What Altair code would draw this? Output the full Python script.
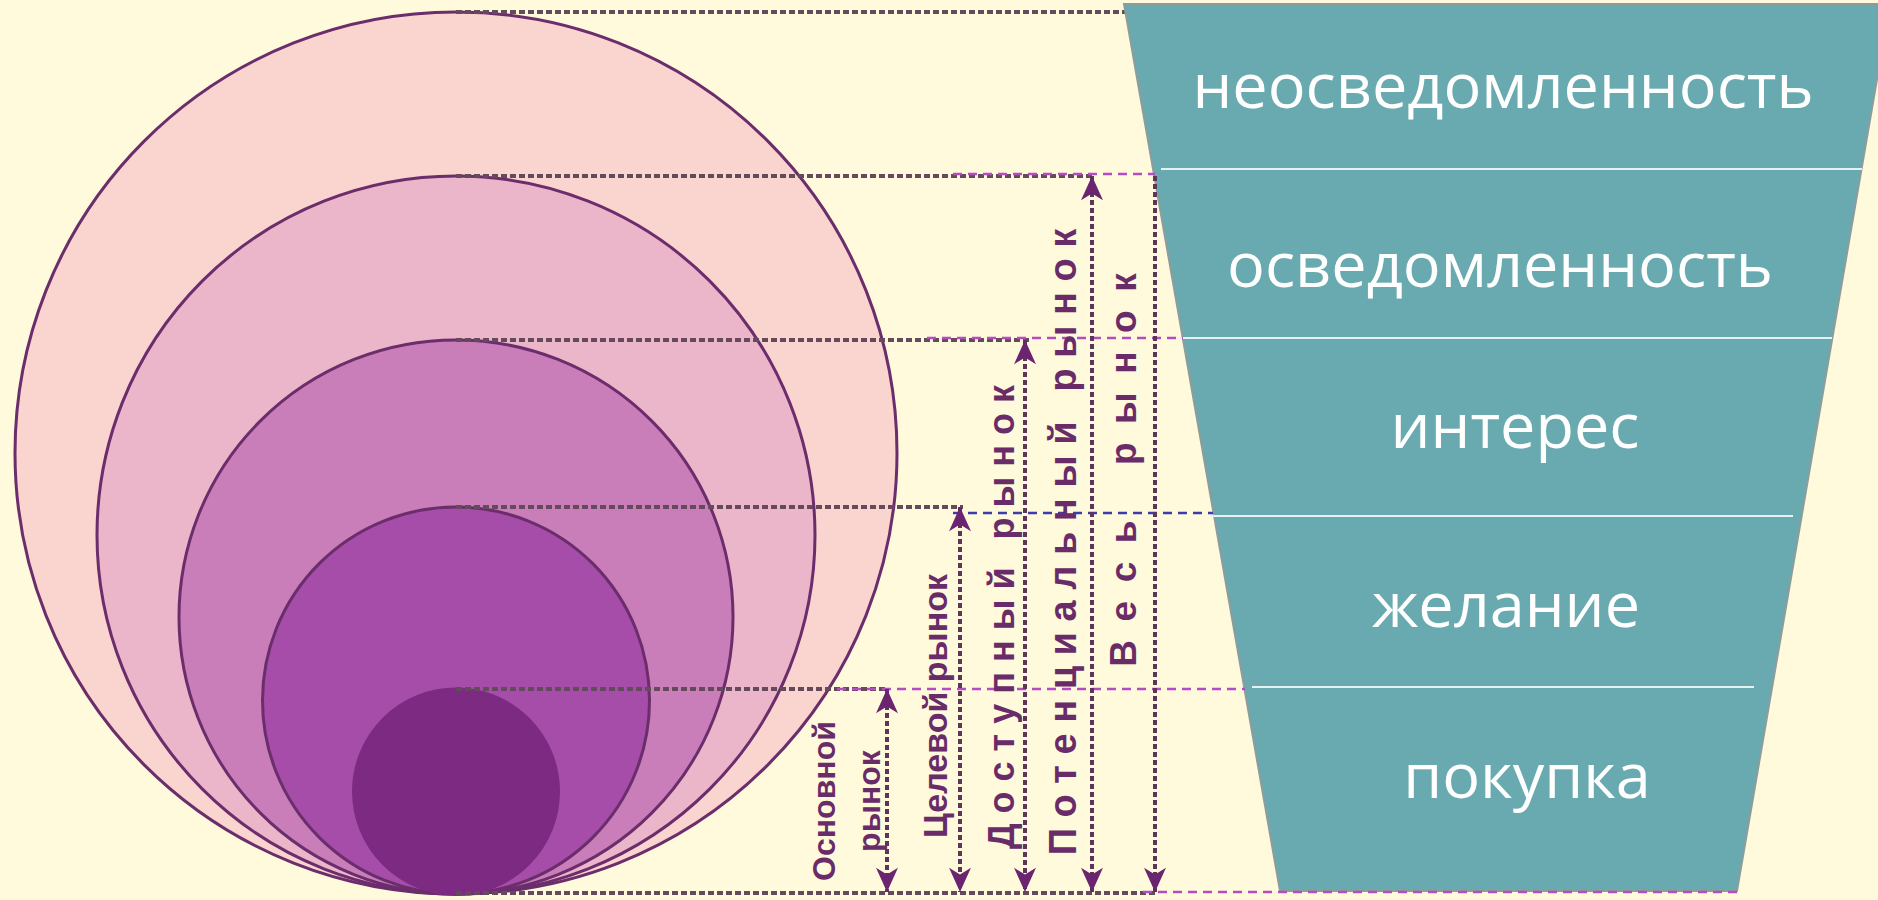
import altair as alt
import pandas as pd

W, H = 1878, 900

# ---- markets (nested circles, all touching at the bottom) ----
markets = ["Весь рынок", "Потенциальный рынок", "Доступный рынок", "Целевой рынок", "Основной рынок"]
circle_top = [12, 176, 340, 507, 689]
circle_bottom = 894
circle_cx = 456
circle_fill = ["#FAD5D0", "#EBB6C9", "#C97EBA", "#A64DAA", "#7C2A82"]
circle_stroke = ["#6B2D6B", "#6B2D6B", "#6B2D6B", "#6B2D6B", "#7C2A82"]

# dark guide lines from circle tops (and common bottom) to the arrows
guide_y = circle_top + [893]
guide_end = [1126, 1093, 1030, 963, 887, 1157]

# thin coloured guides towards the funnel
link_y = [174, 338, 513, 689, 892]
link_x0 = [953, 927, 953, 837, 1143]
link_x1 = [1155, 1183, 1213, 1245, 1737]
link_color = ["#B54CC2", "#B54CC2", "#3D3DAA", "#B54CC2", "#B54CC2"]

# vertical size arrows
arrow_x = [1155, 1092, 1025, 960, 887]
arrow_top = [176, 176, 340, 507, 689]
arrow_has_top = [False, True, True, True, True]
arrow_bottom = 892

# vertical labels (rotated)
label_text = [
    "В\u2002е\u2002с\u2002ь\u2003\u2002р\u2002ы\u2002н\u2002о\u2002к",
    "П о т е н ц и а л ь н ы й\u2002 р ы н о к",
    "Д о с т у п н ы й\u2002 р ы н о к",
    "Целевой рынок",
    "Основной",
    "рынок",
]
label_x = [1125, 1065, 1003, 937, 825, 870]
label_y = [470, 542, 617, 706, 801, 801]
label_size = [37, 38, 36, 34, 32, 32]

# ---- funnel ----
stages = ["неосведомленность", "осведомленность", "интерес", "желание", "покупка"]
funnel_y = [4, 891]
funnel_left = [1124, 1280]
funnel_right = [1890, 1737]
divider_y = [169, 338, 516, 687]
divider_x0 = [1161, 1180, 1210, 1252]
divider_x1 = [1862, 1832, 1793, 1754]
stage_x = [1503, 1500, 1515, 1506, 1527]
stage_baseline = [108, 287, 448, 627, 798]

xs = alt.Scale(domain=[0, W], nice=False, zero=False)
ys = alt.Scale(domain=[0, H], nice=False, zero=False, reverse=True)


def X(f):
    return alt.X(f"{f}:Q", scale=xs, axis=None)


def Y(f):
    return alt.Y(f"{f}:Q", scale=ys, axis=None)


circles_df = pd.DataFrame({
    "market": markets,
    "cx": [circle_cx] * 5,
    "cy": [(t + circle_bottom) / 2 for t in circle_top],
    "d2": [(circle_bottom - t) ** 2 for t in circle_top],
    "fill": circle_fill,
    "stroke": circle_stroke,
    "order": list(range(5)),
})
circles = alt.Chart(circles_df).mark_point(
    shape="circle", filled=True, opacity=1, fillOpacity=1, strokeOpacity=1, strokeWidth=3
).encode(
    x=X("cx"), y=Y("cy"),
    size=alt.Size("d2:Q", scale=None),
    fill=alt.Fill("fill:N", scale=None),
    stroke=alt.Stroke("stroke:N", scale=None),
    order=alt.Order("order:Q"),
)

guides_df = pd.DataFrame({"y": guide_y, "x0": [circle_cx] * len(guide_y), "x1": guide_end})
guides = alt.Chart(guides_df).mark_rule(
    color="#654A5C", strokeWidth=4, strokeDash=[6, 3]
).encode(x=X("x0"), x2=alt.X2("x1:Q"), y=Y("y"))

funnel_df = pd.DataFrame({"y": funnel_y, "xl": funnel_left, "xr": funnel_right})
funnel = alt.Chart(funnel_df).mark_area(
    orient="horizontal", color="#68AAAF", fillOpacity=1, stroke="#8E9C9C", strokeWidth=2
).encode(y=Y("y"), x=X("xl"), x2=alt.X2("xr:Q"))

div_df = pd.DataFrame({"y": divider_y, "x0": divider_x0, "x1": divider_x1})
dividers = alt.Chart(div_df).mark_rule(color="#E6F2F2", strokeWidth=2).encode(
    x=X("x0"), x2=alt.X2("x1:Q"), y=Y("y")
)

links_df = pd.DataFrame({"y": link_y, "x0": link_x0, "x1": link_x1, "c": link_color})
links = alt.Chart(links_df).mark_rule(strokeWidth=2.5, strokeDash=[9, 6]).encode(
    x=X("x0"), x2=alt.X2("x1:Q"), y=Y("y"), color=alt.Color("c:N", scale=None)
)

arr_df = pd.DataFrame({"market": markets, "x": arrow_x, "top": arrow_top, "bottom": [arrow_bottom] * 5})
arrow_lines = alt.Chart(arr_df).mark_rule(
    color="#5E3459", strokeWidth=4, strokeDash=[5, 3]
).encode(x=X("x"), y=Y("top"), y2=alt.Y2("bottom:Q"))

heads_up_df = pd.DataFrame({
    "x": [a for a, h in zip(arrow_x, arrow_has_top) if h],
    "y": [t for t, h in zip(arrow_top, arrow_has_top) if h],
})
heads_up = alt.Chart(heads_up_df).mark_point(
    shape="M0,0L1,2.2L0,1.6L-1,2.2Z", filled=True, color="#6B2570", opacity=1, size=484
).encode(x=X("x"), y=Y("y"))

heads_down_df = pd.DataFrame({"x": arrow_x, "y": [arrow_bottom] * 5})
heads_down = alt.Chart(heads_down_df).mark_point(
    shape="M0,0L1,-2.2L0,-1.6L-1,-2.2Z", filled=True, color="#6B2570", opacity=1, size=484
).encode(x=X("x"), y=Y("y"))

lab_df = pd.DataFrame({"t": label_text, "x": label_x, "y": label_y, "s": label_size})
labels = alt.Chart(lab_df).mark_text(
    angle=270, align="center", baseline="middle", font="Liberation Sans",
    fontWeight="bold", color="#6A2C68"
).encode(x=X("x"), y=Y("y"), text="t:N", size=alt.Size("s:Q", scale=None))

st_df = pd.DataFrame({"t": stages, "x": stage_x, "y": stage_baseline})
stage_text = alt.Chart(st_df).mark_text(
    align="center", baseline="alphabetic", font="Open Sans", fontSize=63, color="#FFFFFF"
).encode(x=X("x"), y=Y("y"), text="t:N")

chart = alt.layer(
    circles, guides, funnel, dividers, links, arrow_lines, heads_up, heads_down, labels, stage_text
).properties(
    width=W, height=H, autosize=alt.AutoSizeParams(type="none"), padding=0, background="#FEFADB"
).configure_view(stroke=None)

chart.save("out.html", embed_options={"renderer": "svg", "actions": False})
